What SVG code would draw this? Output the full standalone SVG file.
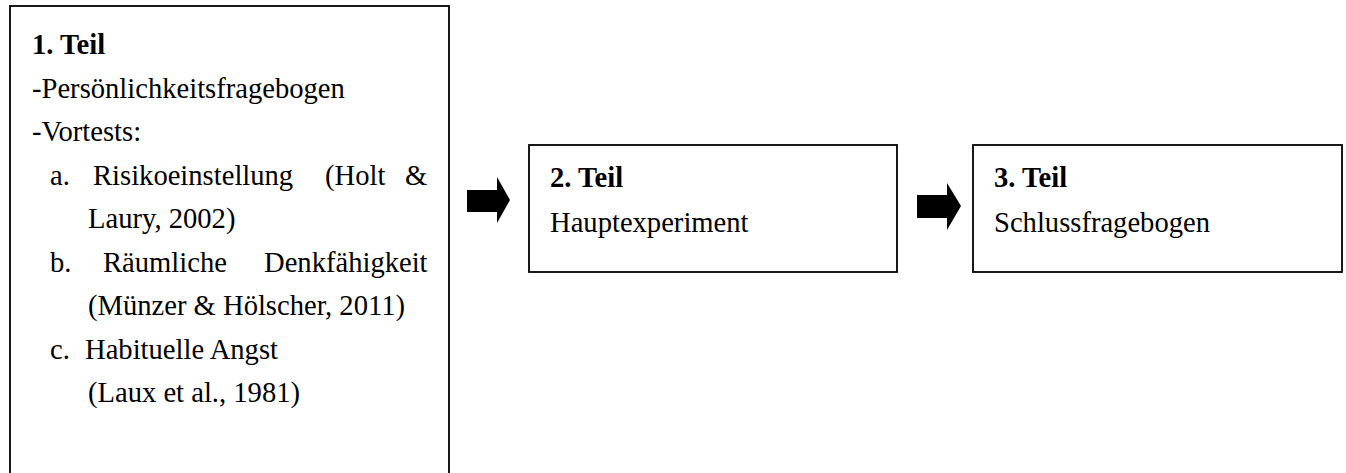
<svg xmlns="http://www.w3.org/2000/svg" width="1346" height="473" viewBox="0 0 1346 473">
  <style>
    .box { fill: #ffffff; stroke: #000000; stroke-width: 1.8; }
    .t { font-family: "Liberation Serif", "Times New Roman", serif; font-size: 28.6px; fill: #000000; }
    .b { font-weight: bold; }
    .arrow { fill: #000000; }
  </style>
  <rect width="1346" height="473" fill="#ffffff"/>

  <!-- Part 1: questionnaires and pre-tests -->
  <g id="teil1">
    <rect class="box" x="10" y="6" width="439" height="480"/>
    <text class="t b" x="32" y="54">1. Teil</text>
    <text class="t" x="32" y="97.5">-Persönlichkeitsfragebogen</text>
    <text class="t" x="32" y="141">-Vortests:</text>
    <text class="t" y="184.5"><tspan x="50">a.</tspan><tspan x="93">Risikoeinstellung</tspan><tspan x="325">(Holt</tspan><tspan x="405">&amp;</tspan></text>
    <text class="t" x="88" y="228">Laury, 2002)</text>
    <text class="t" y="271.5"><tspan x="50">b.</tspan><tspan x="103">Räumliche</tspan><tspan x="264">Denkfähigkeit</tspan></text>
    <text class="t" x="88" y="315">(Münzer &amp; Hölscher, 2011)</text>
    <text class="t" y="358.5"><tspan x="50">c.</tspan><tspan x="85">Habituelle Angst</tspan></text>
    <text class="t" x="88" y="402">(Laux et al., 1981)</text>
  </g>

  <!-- Part 2: main experiment -->
  <g id="teil2">
    <rect class="box" x="529" y="145" width="368" height="127"/>
    <text class="t b" x="550" y="187">2. Teil</text>
    <text class="t" x="550" y="232">Hauptexperiment</text>
  </g>

  <!-- Part 3: final questionnaire -->
  <g id="teil3">
    <rect class="box" x="973" y="145" width="369" height="127"/>
    <text class="t b" x="994" y="187">3. Teil</text>
    <text class="t" x="994" y="232">Schlussfragebogen</text>
  </g>

  <!-- Block arrows between the parts -->
  <g id="connectors">
    <polygon class="arrow" points="467,190 497,190 497,177 510,200 497,223 497,212 467,212"/>
    <polygon class="arrow" points="917,195 947,195 947,183 961,206 947,230 947,218 917,218"/>
  </g>
</svg>
